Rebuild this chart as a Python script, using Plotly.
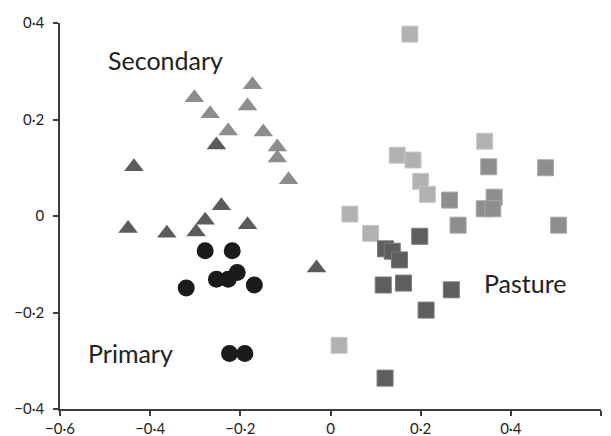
import plotly.graph_objects as go

# Primary (black circles)
primary_x = [-0.278, -0.218, -0.320, -0.253, -0.227, -0.207, -0.169, -0.224, -0.190]
primary_y = [-0.072, -0.072, -0.149, -0.131, -0.131, -0.117, -0.143, -0.285, -0.285]

# Secondary, light triangles
sec_light_x = [-0.302, -0.267, -0.227, -0.173, -0.184, -0.149, -0.118, -0.118, -0.093]
sec_light_y = [0.245, 0.212, 0.176, 0.272, 0.228, 0.174, 0.143, 0.120, 0.075]

# Secondary, dark triangles
sec_dark_x = [-0.253, -0.436, -0.242, -0.449, -0.363, -0.298, -0.278, -0.184, -0.031]
sec_dark_y = [0.147, 0.102, 0.021, -0.026, -0.036, -0.033, -0.009, -0.018, -0.108]

# Pasture, light squares
past_light_x = [0.176, 0.342, 0.148, 0.183, 0.200, 0.215, 0.043, 0.089, 0.019]
past_light_y = [0.377, 0.155, 0.126, 0.116, 0.072, 0.045, 0.004, -0.036, -0.268]

# Pasture, medium squares
past_mid_x = [0.351, 0.477, 0.264, 0.363, 0.341, 0.360, 0.283, 0.506]
past_mid_y = [0.102, 0.100, 0.033, 0.039, 0.015, 0.015, -0.019, -0.019]

# Pasture, dark squares
past_dark_x = [0.198, 0.122, 0.137, 0.153, 0.117, 0.162, 0.268, 0.212, 0.121]
past_dark_y = [-0.042, -0.068, -0.073, -0.091, -0.143, -0.139, -0.153, -0.195, -0.336]

x_ticks = [-0.6, -0.4, -0.2, 0, 0.2, 0.4, 0.6]
x_tick_labels = ["\u22120\u00b76", "\u22120\u00b74", "\u22120\u00b72", "0", "0\u00b72", "0\u00b74", "0\u00b76"]
y_ticks = [-0.4, -0.2, 0, 0.2, 0.4]
y_tick_labels = ["\u22120\u00b74", "\u22120\u00b72", "0", "0\u00b72", "0\u00b74"]

group_labels = ["Secondary", "Primary", "Pasture"]
label_x = [-0.367, -0.444, 0.433]
label_y = [0.323, -0.284, -0.139]

FONT = "Lato, 'Open Sans', sans-serif"

fig = go.Figure()

fig.add_trace(go.Scatter(x=sec_light_x, y=sec_light_y, mode="markers",
                         marker=dict(symbol="triangle-up", size=17, color="#8d8d8d",
                                     line=dict(width=0))))
fig.add_trace(go.Scatter(x=sec_dark_x, y=sec_dark_y, mode="markers",
                         marker=dict(symbol="triangle-up", size=17, color="#5b5b5b",
                                     line=dict(width=0))))
fig.add_trace(go.Scatter(x=primary_x, y=primary_y, mode="markers",
                         marker=dict(symbol="circle", size=17, color="#1b1b1b",
                                     line=dict(width=0))))
fig.add_trace(go.Scatter(x=past_light_x, y=past_light_y, mode="markers",
                         marker=dict(symbol="square", size=16, color="#b1b1b1",
                                     line=dict(width=1, color="#c8c8c8"))))
fig.add_trace(go.Scatter(x=past_mid_x, y=past_mid_y, mode="markers",
                         marker=dict(symbol="square", size=16, color="#8e8e8e",
                                     line=dict(width=1, color="#a8a8a8"))))
fig.add_trace(go.Scatter(x=past_dark_x, y=past_dark_y, mode="markers",
                         marker=dict(symbol="square", size=16, color="#5e5e5e",
                                     line=dict(width=1, color="#7a7a7a"))))

for t, lx, ly in zip(group_labels, label_x, label_y):
    fig.add_annotation(x=lx, y=ly, text=t, showarrow=False,
                       font=dict(family=FONT, size=25, color="#222222"))

axis_common = dict(showgrid=False, zeroline=False, showline=True, linecolor="#3c3c3c",
                   linewidth=1.5, ticks="outside", ticklen=5, tickwidth=1.5,
                   tickcolor="#3c3c3c", automargin=False,
                   tickfont=dict(family=FONT, size=15, color="#222222"))

fig.update_xaxes(range=[-0.6, 0.6], tickmode="array", tickvals=x_ticks,
                 ticktext=x_tick_labels, ticklabelstandoff=0, **axis_common)
fig.update_yaxes(range=[-0.4, 0.4], tickmode="array", tickvals=y_ticks,
                 ticktext=y_tick_labels, ticklabelstandoff=6, **axis_common)

fig.update_layout(width=611, height=436, showlegend=False, autosize=False,
                  plot_bgcolor="white", paper_bgcolor="white",
                  margin=dict(l=60, r=10, t=23, b=27, autoexpand=False))

fig.write_html("out.html", config={"displayModeBar": False},
               post_script="document.body.style.margin='0';document.body.style.overflow='hidden';")
